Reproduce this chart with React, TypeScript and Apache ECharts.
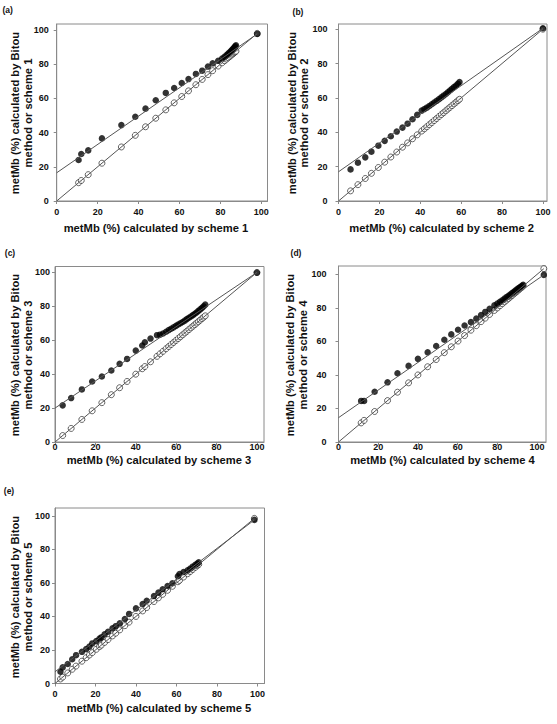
import React, { useEffect, useRef } from "react";
import * as echarts from "echarts";

const FONT = "'Liberation Sans', Arial, Helvetica, sans-serif";

const panelLabels = ["(a)", "(b)", "(c)", "(d)", "(e)"];
const schemeNames = ["scheme 1", "scheme 2", "scheme 3", "scheme 4", "scheme 5"];
const tickValues = [0, 20, 40, 60, 80, 100];

// (a) scheme 1
const schemeA = [10.7, 12.0, 15.4, 22.1, 31.6, 38.4, 43.4, 48.4, 53.3, 57.4, 61.1, 64.4, 68.0, 71.1, 73.9, 76.2, 78.9, 80.8, 82.0, 83.0, 83.8, 84.5, 85.2, 85.8, 86.3, 86.8, 87.2, 87.6, 98.0];
const bitouA = [24.0, 27.5, 29.6, 36.6, 44.4, 49.3, 54.0, 58.9, 63.2, 66.1, 69.0, 71.3, 74.3, 76.2, 78.6, 80.5, 82.0, 83.3, 84.3, 85.3, 86.2, 87.0, 87.8, 88.5, 89.2, 89.8, 90.4, 91.0, 97.7];
const fitA = [[0, 16.5], [98.0, 97.7]];
const identA = [[0, 0], [98.0, 98.0]];

// (b) scheme 2
const schemeB = [5.9, 9.5, 13.1, 16.1, 19.5, 22.6, 25.6, 28.5, 31.3, 33.8, 36.2, 38.5, 40.7, 42.0, 43.2, 44.4, 45.6, 46.8, 48.0, 49.2, 50.3, 51.4, 52.5, 53.5, 54.5, 55.5, 56.5, 57.5, 58.4, 59.2, 100];
const bitouB = [18.4, 22.3, 25.4, 28.7, 32.2, 35.0, 37.7, 40.4, 42.7, 45.0, 47.6, 50.1, 52.6, 53.5, 54.3, 55.3, 56.3, 57.3, 58.3, 59.3, 60.3, 61.3, 62.3, 63.3, 64.3, 65.3, 66.3, 67.2, 68.2, 69.2, 100.5];
const fitB = [[0, 17.0], [100, 100.5]];
const identB = [[0, 0], [100, 100]];

// (c) scheme 3
const schemeC = [3.8, 8.0, 13.3, 18.4, 23.2, 27.9, 32.0, 35.7, 40.0, 43.2, 44.5, 47.3, 50.5, 52.0, 53.5, 55.0, 56.3, 57.5, 58.7, 59.9, 61.0, 62.1, 63.2, 64.3, 65.3, 66.3, 67.3, 68.3, 69.2, 70.1, 71.0, 71.9, 72.8, 73.6, 74.4, 100];
const bitouC = [21.6, 25.9, 31.0, 35.7, 38.6, 42.2, 46.1, 49.0, 53.9, 56.9, 58.8, 61.0, 63.0, 63.3, 64.0, 65.0, 66.0, 66.8, 67.6, 68.5, 69.3, 70.0, 70.8, 71.6, 72.5, 73.3, 74.0, 74.8, 75.6, 76.4, 77.3, 78.2, 79.1, 80.0, 81.0, 99.8];
const fitC = [[0, 20.0], [100, 100]];
const identC = [[0, 0], [100, 100]];

// (d) scheme 4
const schemeD = [11.4, 12.9, 18.2, 24.7, 29.7, 35.3, 40.0, 44.9, 49.2, 53.3, 56.8, 60.2, 63.5, 66.7, 69.4, 71.8, 73.9, 76.1, 78.5, 80.0, 81.3, 82.5, 83.6, 84.6, 85.6, 86.5, 87.4, 88.3, 89.1, 89.9, 90.7, 91.5, 92.3, 93.0, 103.4];
const bitouD = [24.5, 24.5, 30.0, 35.6, 41.0, 45.4, 49.6, 53.5, 57.3, 61.0, 64.2, 67.0, 69.5, 71.5, 73.6, 75.8, 77.6, 79.5, 81.5, 82.6, 83.6, 84.6, 85.5, 86.4, 87.2, 88.0, 88.8, 89.6, 90.4, 91.1, 91.8, 92.5, 93.2, 93.8, 99.7];
const fitD = [[0, 14.5], [103.4, 99.7]];
const identD = [[0, 0], [103.4, 103.4]];

// (e) scheme 5
const schemeE = [2.7, 3.8, 6.3, 8.5, 10.4, 13.3, 15.4, 17.0, 18.4, 20.4, 22.0, 22.9, 24.5, 26.2, 28.4, 30.0, 32.0, 34.5, 36.6, 40.0, 43.3, 45.3, 48.9, 51.1, 53.2, 55.6, 58.0, 60.7, 61.5, 63.5, 65.5, 66.8, 68.0, 69.3, 70.3, 71.0, 98.5];
const bitouE = [7.0, 9.6, 11.6, 14.5, 16.9, 18.9, 20.5, 22.0, 23.9, 25.3, 26.8, 27.5, 29.3, 30.9, 32.9, 34.2, 35.9, 38.5, 41.5, 44.8, 47.4, 49.4, 52.2, 54.2, 56.2, 58.2, 59.8, 64.0, 65.3, 66.5, 67.5, 68.5, 69.7, 70.8, 71.5, 72.3, 97.6];
const fitE = [[0, 7.0], [98.5, 97.6]];
const identE = [[0, 0], [98.5, 98.5]];

const panelData = [
  { scheme: schemeA, bitou: bitouA, fit: fitA, ident: identA },
  { scheme: schemeB, bitou: bitouB, fit: fitB, ident: identB },
  { scheme: schemeC, bitou: bitouC, fit: fitC, ident: identC },
  { scheme: schemeD, bitou: bitouD, fit: fitD, ident: identD },
  { scheme: schemeE, bitou: bitouE, fit: fitE, ident: identE },
];

// layout (pixels) and axis extents per panel
const layouts = [
  { left: 56.7, top: 24, width: 210.8, height: 177, xMax: 103, yMax: 103.5, yMargin: 8, xMargin: 6, label: [7.7, 10], xTitle: [156, 228], yTitle: [15.3, 28.3, 113] },
  { left: 338.5, top: 24, width: 208.5, height: 177, xMax: 102, yMax: 103, yMargin: 11, xMargin: 6, label: [298, 11.7], xTitle: [441.7, 228.3], yTitle: [292, 304, 113] },
  { left: 55, top: 266.5, width: 209, height: 175.5, xMax: 103.5, yMax: 103.5, yMargin: 5, xMargin: 0.5, label: [10, 253.3], xTitle: [159, 459.5], yTitle: [15, 27.5, 355] },
  { left: 338.5, top: 266, width: 207.5, height: 176, xMax: 104.5, yMax: 105, yMargin: 12, xMargin: 0.5, label: [296, 253.3], xTitle: [442.5, 459.5], yTitle: [289.5, 303, 355] },
  { left: 55, top: 508, width: 209.5, height: 175.5, xMax: 103.5, yMax: 104.7, yMargin: 5, xMargin: 6, label: [9, 490.7], xTitle: [159, 708.3], yTitle: [15, 27.5, 597] },
];

const GRAY = "#8a8a8a";
const INK = "#111";

function buildOption() {
  const grid: any[] = [];
  const xAxis: any[] = [];
  const yAxis: any[] = [];
  const series: any[] = [];
  const graphic: any[] = [];

  layouts.forEach((L, i) => {
    const d = panelData[i];
    grid.push({
      left: L.left,
      top: L.top,
      width: L.width,
      height: L.height,
      show: true,
      borderColor: GRAY,
      borderWidth: 1,
      containLabel: false,
    });
    const axisCommon = {
      type: "value",
      gridIndex: i,
      min: 0,
      interval: 20,
      splitLine: { show: false },
      axisLine: { show: true, onZero: false, lineStyle: { color: GRAY, width: 1 } },
      axisTick: { show: true, inside: false, length: 3, customValues: tickValues, lineStyle: { color: GRAY } },
    };
    xAxis.push({
      ...axisCommon,
      max: L.xMax,
      axisLabel: {
        customValues: tickValues,
        fontSize: 9,
        fontWeight: "bold",
        fontFamily: FONT,
        color: INK,
        margin: L.xMargin,
      },
    });
    yAxis.push({
      ...axisCommon,
      max: L.yMax,
      axisLabel: {
        customValues: tickValues,
        fontSize: 9,
        fontWeight: "bold",
        fontFamily: FONT,
        color: INK,
        margin: L.yMargin,
      },
    });

    series.push({
      type: "scatter",
      xAxisIndex: i,
      yAxisIndex: i,
      silent: true,
      symbol: "circle",
      symbolSize: 6,
      itemStyle: { color: "#ffffff", borderColor: INK, borderWidth: 0.8 },
      data: d.scheme.map((v) => [v, v]),
      z: 2,
    });
    series.push({
      type: "scatter",
      xAxisIndex: i,
      yAxisIndex: i,
      silent: true,
      symbol: "circle",
      symbolSize: 6.5,
      itemStyle: { color: "#000" },
      data: d.scheme.map((v, k) => [v, d.bitou[k]]),
      z: 3,
    });
    [d.fit, d.ident].forEach((ln) => {
      series.push({
        type: "line",
        xAxisIndex: i,
        yAxisIndex: i,
        silent: true,
        symbol: "none",
        lineStyle: { color: "#555", width: 1 },
        data: ln,
        z: 4,
      });
    });

    graphic.push({
      type: "text",
      x: L.label[0],
      y: L.label[1],
      style: {
        text: panelLabels[i],
        fontSize: 8.5,
        fontWeight: "bold",
        fontFamily: FONT,
        fill: INK,
        textAlign: "center",
        textVerticalAlign: "middle",
      },
    });
    graphic.push({
      type: "text",
      x: L.xTitle[0],
      y: L.xTitle[1],
      style: {
        text: "metMb (%) calculated by " + schemeNames[i],
        fontSize: 11.2,
        fontWeight: "bold",
        fontFamily: FONT,
        fill: INK,
        textAlign: "center",
        textVerticalAlign: "middle",
      },
    });
    graphic.push({
      type: "text",
      x: L.yTitle[0],
      y: L.yTitle[2],
      rotation: Math.PI / 2,
      style: {
        text: "metMb (%) calculated by Bitou",
        fontSize: 11.2,
        fontWeight: "bold",
        fontFamily: FONT,
        fill: INK,
        textAlign: "center",
        textVerticalAlign: "middle",
      },
    });
    graphic.push({
      type: "text",
      x: L.yTitle[1],
      y: L.yTitle[2],
      rotation: Math.PI / 2,
      style: {
        text: "method or " + schemeNames[i],
        fontSize: 11.2,
        fontWeight: "bold",
        fontFamily: FONT,
        fill: INK,
        textAlign: "center",
        textVerticalAlign: "middle",
      },
    });
  });

  return {
    animation: false,
    backgroundColor: "#ffffff",
    grid,
    xAxis,
    yAxis,
    series,
    graphic,
  };
}

export default function App() {
  const ref = useRef<HTMLDivElement>(null);
  useEffect(() => {
    document.body.style.margin = "0";
    if (!ref.current) return;
    const chart = echarts.init(ref.current, null, { renderer: "svg" });
    chart.setOption(buildOption() as any);
    return () => chart.dispose();
  }, []);
  return <div ref={ref} style={{ width: 557, height: 724, background: "#fff" }} />;
}
